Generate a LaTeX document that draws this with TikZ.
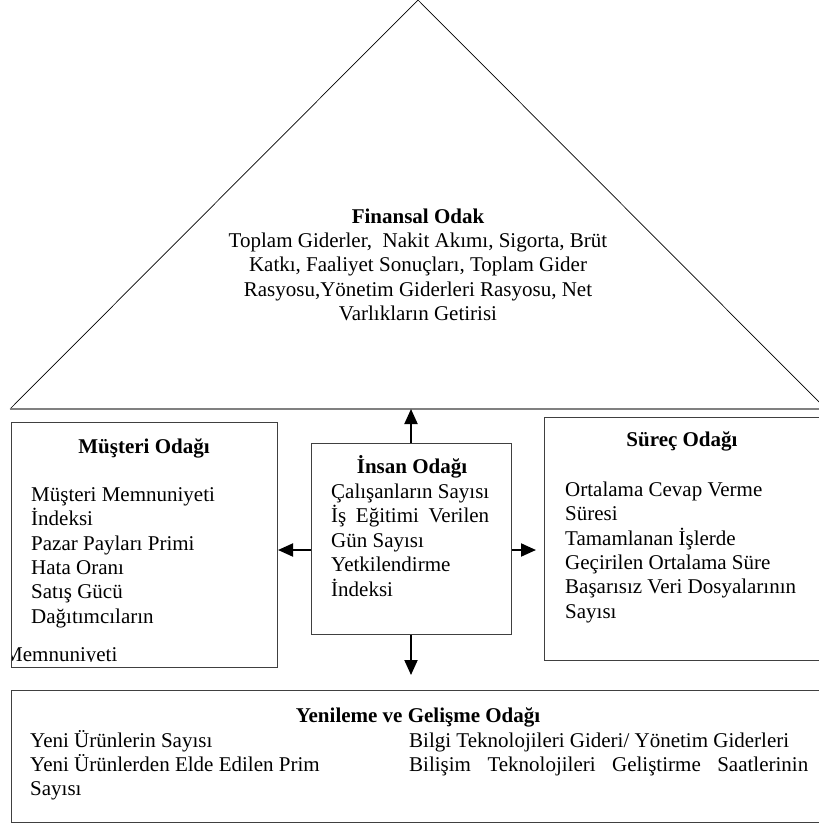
\documentclass[tikz,border=0pt]{standalone}
\usepackage{fontspec}
\setmainfont{Liberation Serif}
\usetikzlibrary{arrows.meta}
\newcommand\linesL[1]{\begin{tabular}[t]{@{}l@{}}#1\end{tabular}}
\newcommand\linesC[1]{\begin{tabular}[t]{@{}c@{}}#1\end{tabular}}
\begin{document}
\begin{tikzpicture}[x=1pt,y=-1pt,
  txt/.style={inner sep=0pt,anchor=base west,font=\fontsize{21}{24.4}\selectfont},
  ctxt/.style={inner sep=0pt,anchor=base,font=\fontsize{21}{24.4}\selectfont},
  frame/.style={draw=black!75,line width=1pt,rectangle,anchor=north west,inner sep=0pt},
  arr/.style={line width=2pt,-{Triangle[length=15pt,width=13pt]}},
  side/.style={line width=0.7pt,draw=black},
  base/.style={line width=2.2pt,draw=black!50}]
\useasboundingbox (0,0) rectangle (819,825);
\clip (0,0) rectangle (819,825);
% triangle
\coordinate (apex) at (418,0);
\coordinate (bl) at (10,409);
\coordinate (br) at (826,409);
\draw[side] (bl) -- (apex) -- (br);
\draw[base] (bl) -- (br);
\node[ctxt] (fin) at (418,223) {\linesC{\textbf{Finansal Odak}\\
Toplam Giderler,\ \ Nakit Akımı, Sigorta, Brüt\\
Katkı, Faaliyet Sonuçları, Toplam Gider\\
Rasyosu,Yönetim Giderleri Rasyosu, Net\\
Varlıkların Getirisi}};
% boxes
\node[frame,minimum width=266pt,minimum height=245pt] (mus) at (11,422) {};
\node[frame,minimum width=200pt,minimum height=191pt] (ins) at (311,443) {};
\node[frame,minimum width=280pt,minimum height=243pt] (sur) at (544,417) {};
\node[frame,minimum width=815pt,minimum height=132pt] (yen) at (11,690) {};
% Müşteri
\node[ctxt] (musT) at (144,453) {\textbf{Müşteri Odağı}};
\node[txt] (musL) at (31,501) {\linesL{Müşteri Memnuniyeti\\ İndeksi\\ Pazar Payları Primi\\ Hata Oranı\\ Satış Gücü\\ Dağıtımcıların}};
\begin{scope}
\clip (12,630) rectangle (276,661.5);
\node[txt] (musM) at (4,661) {Memnuniyeti};
\end{scope}
% İnsan
\node[ctxt] (insT) at (412,473) {\textbf{İnsan Odağı}};
\node[txt] (insL) at (331,498) {\linesL{Çalışanların Sayısı\\ \makebox[158pt][s]{İş Eğitimi Verilen}\\ Gün Sayısı\\ Yetkilendirme\\ İndeksi}};
% Süreç
\node[ctxt] (surT) at (682,446) {\textbf{Süreç Odağı}};
\node[txt] (surL) at (565,496) {\linesL{Ortalama Cevap Verme\\ Süresi\\ Tamamlanan İşlerde\\ Geçirilen Ortalama Süre\\ Başarısız Veri Dosyalarının\\ Sayısı}};
% Yenileme
\node[ctxt] (yenT) at (418,722) {\textbf{Yenileme ve Gelişme Odağı}};
\node[txt] (yenL) at (30,747) {\linesL{Yeni Ürünlerin Sayısı\\ Yeni Ürünlerden Elde Edilen Prim\\ Sayısı}};
\node[txt] (yenR) at (409,747) {\linesL{Bilgi Teknolojileri Gideri/ Yönetim Giderleri\\ \makebox[399pt][s]{Bilişim Teknolojileri Geliştirme Saatlerinin}}};
% arrows
\coordinate (baseU) at (411,409);
\draw[arr] (ins.north -| baseU) -- (baseU);
\draw[arr] ([yshift=-11pt]ins.west) -- ([yshift=-11pt]ins.west -| mus.east);
\draw[arr] ([yshift=-11pt]ins.east) -- ([xshift=-8pt,yshift=-11pt]ins.east -| sur.west);
\draw[arr] (ins.south -| baseU) -- ([yshift=15pt]yen.north -| baseU);
\end{tikzpicture}
\end{document}
